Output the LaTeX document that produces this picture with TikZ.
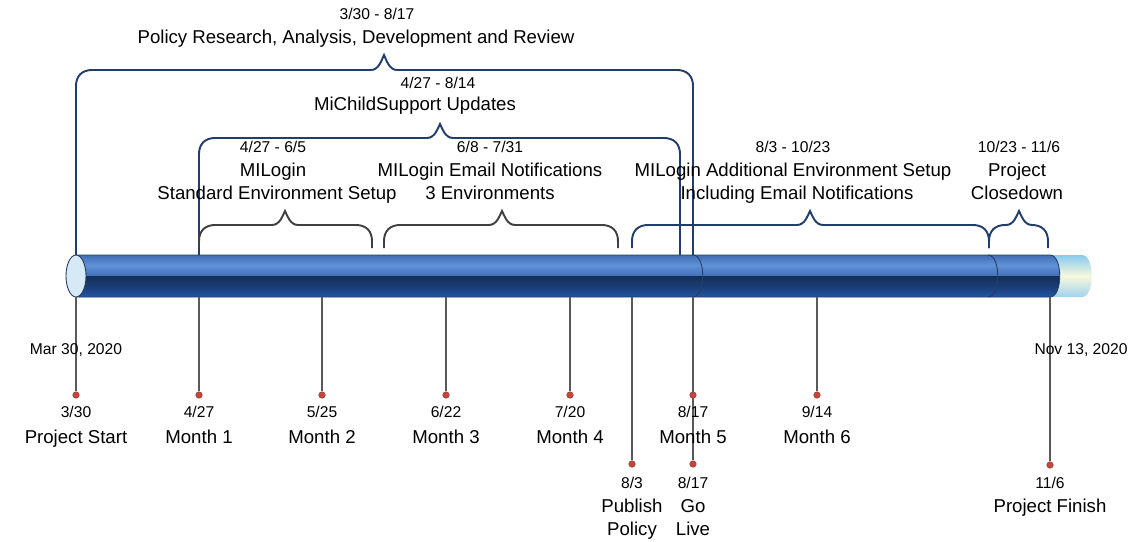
\documentclass[tikz,border=0pt]{standalone}
\usepackage{fontspec}
\setmainfont{Liberation Sans}
\usepackage{tikz}
\usetikzlibrary{positioning}
\definecolor{navy}{RGB}{33,61,107}
\definecolor{bracegray}{RGB}{64,64,64}
\definecolor{tickgray}{RGB}{89,89,89}
\definecolor{dotred}{RGB}{196,70,60}
\definecolor{tubeA}{RGB}{60,105,176}
\definecolor{tubeB}{RGB}{96,146,216}
\definecolor{tubeC}{RGB}{66,112,184}
\definecolor{tubeD}{RGB}{20,46,88}
\definecolor{tubeE}{RGB}{26,62,118}
\definecolor{tubeF}{RGB}{34,88,168}
\definecolor{tubeline}{RGB}{38,62,100}
\definecolor{face}{RGB}{214,233,246}
\definecolor{capA}{RGB}{135,202,238}
\definecolor{capB}{RGB}{248,248,222}
\definecolor{capC}{RGB}{160,210,238}
\newcommand{\bigtxt}{\fontsize{10.6}{12}\selectfont}
\newcommand{\smtxt}{\fontsize{8.9}{10}\selectfont}
% #1 style, #2 left x, #3 right x, #4 tip x, #5 leg bottom, #6 bar y, #7 tip y
\newcommand{\tlbrace}[7]{%
 \draw[brace,#1] (#2,#5) -- (#2,#6+16) .. controls (#2,#6+6) and (#2+6,#6) .. (#2+16,#6)
  -- (#4-13,#6) .. controls (#4-5,#6) and (#4-2,#7+4) .. (#4,#7)
  .. controls (#4+2,#7+4) and (#4+5,#6) .. (#4+13,#6)
  -- (#3-16,#6) .. controls (#3-6,#6) and (#3,#6+6) .. (#3,#6+16) -- (#3,#5);}

\begin{document}
\begin{tikzpicture}[x=0.02cm,y=-0.02cm,
  every node/.style={inner sep=0pt,anchor=base},
  brace/.style={line width=1.1pt,draw=navy},
  graybrace/.style={draw=bracegray},
  tick/.style={draw=tickgray,line width=0.6pt},
  dot/.style={circle,fill=dotred,draw=dotred!80!black,line width=0.3pt,minimum size=0.13cm,anchor=center},
  big/.style={font=\bigtxt},
  sm/.style={font=\smtxt}]
 \useasboundingbox (0,0) rectangle (1139,541);
 \coordinate (tubebot) at (0,297);

 % light end cap
 \shade[top color=capA,bottom color=capC,middle color=capB]
   (1050,255) -- (1082,255) .. controls (1095,255) and (1095,297) .. (1082,297) -- (1050,297) -- cycle;
 % tube body
 \begin{scope}
  \clip (76,255) -- (1050,255) .. controls (1063,255) and (1063,297) .. (1050,297) -- (76,297) -- cycle;
  \shade[top color=tubeA,bottom color=tubeC,middle color=tubeB] (70,254) rectangle (1070,276);
  \shade[top color=tubeD,bottom color=tubeF,middle color=tubeE] (70,276) rectangle (1070,298);
 \end{scope}
 \draw[tubeline,line width=0.5pt] (76,255) -- (1050,255) .. controls (1063,255) and (1063,297) .. (1050,297) -- (76,297);
 \draw[tubeline,line width=0.5pt] (693,255) .. controls (706,255) and (706,297) .. (693,297);
 \draw[tubeline,line width=0.5pt] (988,255) .. controls (1001,255) and (1001,297) .. (988,297);
 \draw[tubeline,line width=0.5pt,fill=face] (76,276) ellipse [x radius=10,y radius=21];

 % braces
 \tlbrace{}{76}{693}{384}{255}{70}{55}
 \tlbrace{}{199}{680}{440}{255}{138}{124}
 \tlbrace{graybrace}{199}{372}{285}{248}{225}{211}
 \tlbrace{graybrace}{384}{618}{502}{248}{225}{211}
 \tlbrace{}{632}{989}{810}{248}{225}{211}
 \tlbrace{}{989}{1048}{1019}{248}{225}{211}

 % phase labels
 \node[sm] (p1d) at (377,19) {3/30 - 8/17};
 \node[big] (p1) at (356,43) {Policy Research, Analysis, Development and Review};
 \node[sm] (p2d) at (438,88) {4/27 - 8/14};
 \node[big] (p2) at (415,110) {MiChildSupport Updates};
 \node[sm] (p3d) at (273,152) {4/27 - 6/5};
 \node[big] (p3a) at (273,176) {MILogin};
 \node[big] (p3b) at (277,199) {Standard Environment Setup};
 \node[sm] (p4d) at (490,152) {6/8 - 7/31};
 \node[big] (p4a) at (490,176) {MILogin Email Notifications};
 \node[big] (p4b) at (490,199) {3 Environments};
 \node[sm] (p5d) at (793,152) {8/3 - 10/23};
 \node[big] (p5a) at (793,176) {MILogin Additional Environment Setup};
 \node[big] (p5b) at (797,199) {Including Email Notifications};
 \node[sm] (p6d) at (1019,152) {10/23 - 11/6};
 \node[big] (p6a) at (1017,176) {Project};
 \node[big] (p6b) at (1017,199) {Closedown};

 % milestones
 \node[dot] (ms) at (76,395) {};
 \node[dot] (m1) at (199,395) {};
 \node[dot] (m2) at (322,395) {};
 \node[dot] (m3) at (446,395) {};
 \node[dot] (m4) at (570,395) {};
 \node[dot] (pub) at (632,464) {};
 \node[dot] (golive) at (693,464) {};
 \node[dot] (m6) at (817,395) {};
 \node[dot] (fin) at (1050,465) {};
 \foreach \m in {ms,m1,m2,m3,m4,pub,golive,m6,fin}
  \draw[tick] (\m) -- (\m |- tubebot);
 \node[dot] (m5) at (693,395) {};

 \node[sm] (startd) at (76,354) {Mar 30, 2020};
 \node[sm] (find) at (1081,354) {Nov 13, 2020};

 \node[sm] at (76,417) {3/30};   \node[big] at (76,443) {Project Start};
 \node[sm] at (199,417) {4/27};  \node[big] at (199,443) {Month 1};
 \node[sm] at (322,417) {5/25};  \node[big] at (322,443) {Month 2};
 \node[sm] at (446,417) {6/22};  \node[big] at (446,443) {Month 3};
 \node[sm] at (570,417) {7/20};  \node[big] at (570,443) {Month 4};
 \node[sm] at (693,417) {8/17};  \node[big] at (693,443) {Month 5};
 \node[sm] at (817,417) {9/14};  \node[big] at (817,443) {Month 6};
 \node[sm] at (632,488) {8/3};   \node[big] at (632,512) {Publish};
 \node[big] at (632,535) {Policy};
 \node[sm] at (693,488) {8/17};  \node[big] at (693,512) {Go};
 \node[big] at (693,535) {Live};
 \node[sm] at (1050,488) {11/6}; \node[big] at (1050,512) {Project Finish};
\end{tikzpicture}
\end{document}
